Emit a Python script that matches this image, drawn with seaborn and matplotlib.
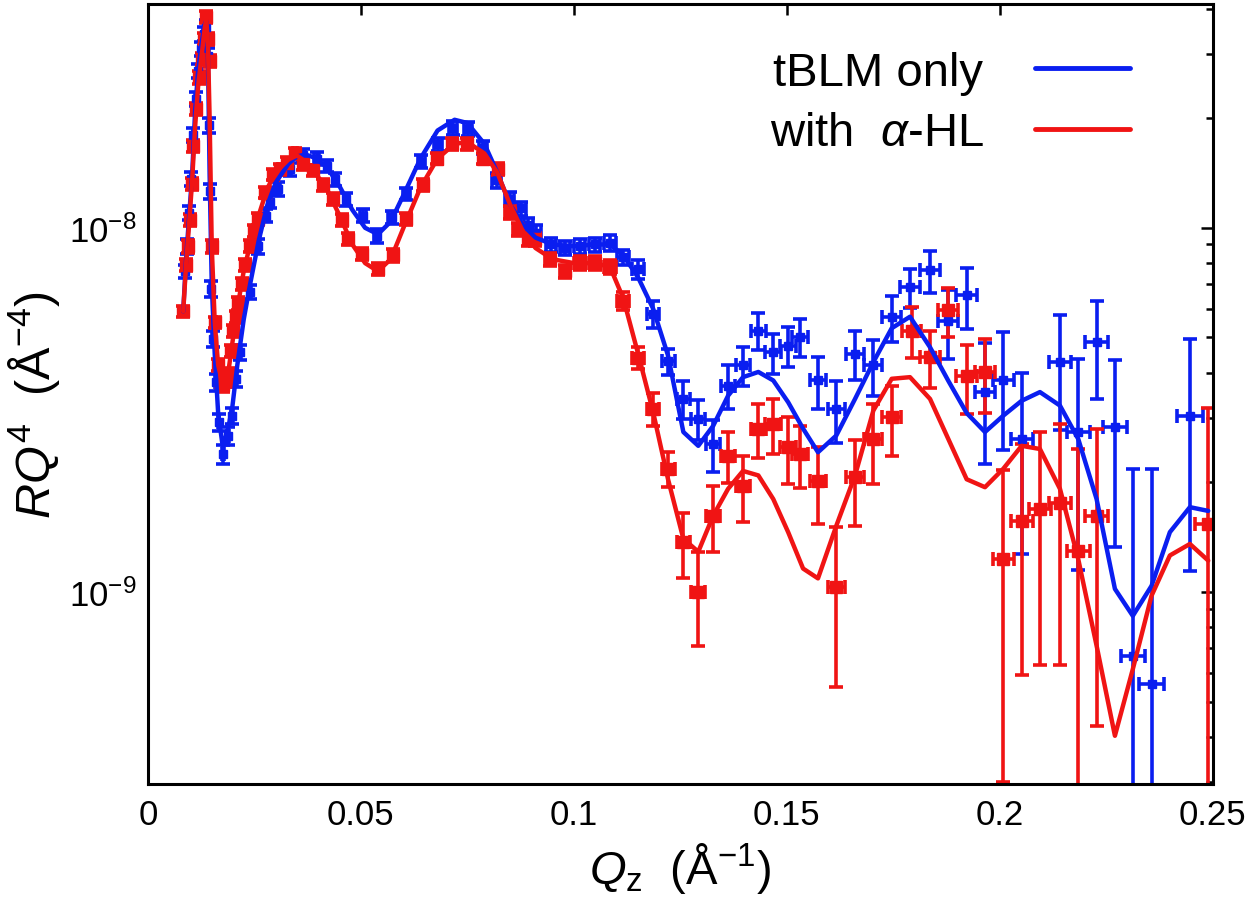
import numpy as np
import matplotlib
matplotlib.use("Agg")
import matplotlib.pyplot as plt
from matplotlib.lines import Line2D
from matplotlib.ticker import FixedLocator, FuncFormatter, NullFormatter
import seaborn as sns

# ---------------------------------------------------------------------------
# Data (R*Q^4 in units of 1e-9 A^-4)
# ---------------------------------------------------------------------------
q_blue = [0.0088, 0.0092, 0.0097, 0.0102, 0.0107, 0.0112, 0.0118, 0.0124, 0.0131, 0.0137,
          0.0141, 0.0143, 0.0145, 0.0148, 0.0152, 0.0159, 0.0166, 0.0176, 0.0188, 0.0198,
          0.0207, 0.0216, 0.0239, 0.0259, 0.0278, 0.0286, 0.0306, 0.0333, 0.0365, 0.0396,
          0.0420, 0.0439, 0.0466, 0.0505, 0.0537, 0.0572, 0.0607, 0.0642, 0.0681, 0.0717,
          0.0752, 0.0787, 0.0819, 0.0850, 0.0877, 0.0893, 0.0912, 0.0947, 0.0979, 0.1014,
          0.1049, 0.1085, 0.1116, 0.1151, 0.1186, 0.1221, 0.1257, 0.1292, 0.1327, 0.1362,
          0.1397, 0.1433, 0.1468, 0.1503, 0.1531, 0.1573, 0.1616, 0.1660, 0.1703, 0.1746,
          0.1789, 0.1836, 0.1879, 0.1922, 0.1965, 0.2008, 0.2051, 0.2141, 0.2184, 0.2227,
          0.2270, 0.2312, 0.2356, 0.2446]
r_blue = [7.6, 8.9, 11.0, 13.6, 18.0, 22.6, 27.0, 31.0, 34.0, 35.7,
          29.7, 19.1, 12.6, 6.8, 4.96, 3.77, 2.93, 2.39, 2.68, 3.05,
          3.85, 4.56, 6.67, 8.9, 10.8, 11.8, 12.8, 14.5, 15.8, 15.5,
          14.8, 13.6, 12.0, 10.8, 9.5, 10.7, 12.4, 15.2, 17.0, 18.8,
          18.7, 16.6, 13.5, 12.0, 11.3, 10.2, 9.7, 9.0, 8.8, 8.9,
          9.0, 9.1, 8.3, 7.7, 5.8, 4.3, 3.39, 2.99, 2.55, 3.69,
          4.19, 5.22, 4.55, 4.75, 5.01, 3.81, 3.18, 4.51, 4.19, 5.69,
          6.87, 7.64, 5.56, 6.52, 3.54, 3.81, 2.63, 4.28, 2.75, 4.85,
          2.83, 0.668, 0.559, 3.05]
err_blue = [0.3, 0.4, 0.5, 0.6, 0.8, 1.0, 1.2, 1.4, 1.5, 1.6,
            1.4, 0.9, 0.6, 0.35, 0.25, 0.2, 0.16, 0.14, 0.15, 0.16,
            0.2, 0.22, 0.3, 0.4, 0.45, 0.5, 0.55, 0.6, 0.65, 0.65,
            0.6, 0.55, 0.5, 0.45, 0.4, 0.45, 0.5, 0.6, 0.7, 0.8,
            0.8, 0.7, 0.6, 0.55, 0.5, 0.45, 0.45, 0.4, 0.4, 0.4,
            0.4, 0.45, 0.4, 0.45, 0.5, 0.36, 0.4, 0.38, 0.41, 0.5,
            0.52, 0.6, 0.57, 0.6, 0.6, 0.62, 0.62, 0.7, 0.73, 0.82,
            0.85, 1.0, 1.2, 1.26, 1.3, 1.35, 1.36, 1.5, 1.6, 1.46,
            1.5, 1.51, 1.62, 1.91]

q_red = [0.0083, 0.0089, 0.0094, 0.0099, 0.0103, 0.0107, 0.0114, 0.0120, 0.0126, 0.0131,
         0.0136, 0.0141, 0.0146, 0.0150, 0.0157, 0.0165, 0.0171, 0.0177, 0.0183, 0.0189,
         0.0195, 0.0200, 0.0206, 0.0212, 0.0220, 0.0228, 0.0239, 0.0249, 0.0259, 0.0275,
         0.0294, 0.0310, 0.0326, 0.0345, 0.0365, 0.0388, 0.0412, 0.0435, 0.0455, 0.0470,
         0.0502, 0.0541, 0.0576, 0.0607, 0.0646, 0.0678, 0.0713, 0.0748, 0.0787, 0.0822,
         0.0850, 0.0869, 0.0893, 0.0908, 0.0944, 0.0979, 0.1014, 0.1049, 0.1085, 0.1116,
         0.1151, 0.1186, 0.1221, 0.1257, 0.1292, 0.1327, 0.1362, 0.1397, 0.1433, 0.1468,
         0.1503, 0.1531, 0.1573, 0.1616, 0.1660, 0.1703, 0.1746, 0.1793, 0.1836, 0.1879,
         0.1922, 0.1965, 0.2008, 0.2051, 0.2094, 0.2141, 0.2184, 0.2227, 0.2489]
r_red = [5.9, 7.9, 8.9, 10.5, 13.2, 16.8, 21.2, 25.9, 29.1, 33.0,
         38.0, 33.0, 28.8, 8.9, 5.5, 4.2, 3.8, 3.7, 3.8, 3.95,
         4.6, 5.2, 5.7, 6.2, 7.0, 7.9, 8.9, 9.8, 10.6, 12.5,
         14.0, 14.5, 15.1, 16.0, 15.0, 14.4, 13.1, 12.0, 10.5, 9.3,
         8.5, 7.7, 8.4, 10.6, 13.1, 15.5, 17.0, 17.0, 15.5, 14.5,
         11.0, 9.9, 9.3, 9.3, 8.2, 7.6, 8.0, 8.0, 7.8, 6.3,
         4.4, 3.18, 2.18, 1.37, 1.0, 1.62, 2.37, 1.96, 2.81, 2.89,
         2.50, 2.39, 2.02, 1.03, 2.07, 2.63, 3.02, 5.22, 4.42, 5.93,
         3.93, 4.02, 1.23, 1.57, 1.69, 1.76, 1.30, 1.62, 1.54]
err_red = [0.2, 0.3, 0.35, 0.4, 0.5, 0.6, 0.8, 1.0, 1.1, 1.2,
           1.4, 1.2, 1.1, 0.35, 0.2, 0.16, 0.15, 0.15, 0.15, 0.16,
           0.18, 0.2, 0.22, 0.24, 0.27, 0.3, 0.33, 0.36, 0.4, 0.45,
           0.5, 0.5, 0.55, 0.55, 0.55, 0.5, 0.5, 0.45, 0.4, 0.35,
           0.32, 0.3, 0.32, 0.4, 0.5, 0.55, 0.6, 0.6, 0.55, 0.55,
           0.45, 0.4, 0.38, 0.38, 0.35, 0.33, 0.35, 0.35, 0.35, 0.35,
           0.3, 0.33, 0.24, 0.28, 0.29, 0.33, 0.38, 0.4, 0.48, 0.5,
           0.52, 0.46, 0.48, 0.48, 0.55, 0.65, 0.66, 0.83, 0.78, 0.92,
           0.85, 0.92, 0.93, 0.98, 1.06, 1.13, 1.17, 1.19, 1.66]

# model fits
q_fit = [0.0083, 0.0090, 0.0097, 0.0104, 0.0111, 0.0118, 0.0126, 0.0133, 0.0137, 0.0141,
         0.0145, 0.0150, 0.0157, 0.0165, 0.0176, 0.0188, 0.0198, 0.0210, 0.0225, 0.0240,
         0.0260, 0.0280, 0.0300, 0.0330, 0.0350, 0.0370, 0.0390, 0.0420, 0.0450, 0.0480,
         0.0510, 0.0540, 0.0570, 0.0600, 0.0640, 0.0680, 0.0720, 0.0750, 0.0790, 0.0820,
         0.0850, 0.0880, 0.0910, 0.0950, 0.1000, 0.1050, 0.1085, 0.1116, 0.1151, 0.1186,
         0.1221, 0.1257, 0.1292, 0.1327, 0.1362, 0.1397, 0.1433, 0.1468, 0.1503, 0.1538,
         0.1573, 0.1616, 0.1660, 0.1703, 0.1746, 0.1789, 0.1836, 0.1879, 0.1922, 0.1965,
         0.2008, 0.2051, 0.2094, 0.2141, 0.2184, 0.2227, 0.2270, 0.2312, 0.2356, 0.2399,
         0.2446, 0.2489]
fit_blue = [5.9, 8.3, 10.8, 14.0, 21.0, 27.0, 32.0, 36.0, 37.0, 30.0,
            14.0, 7.0, 4.5, 3.1, 2.5, 2.8, 3.2, 4.2, 5.6, 7.0,
            9.2, 11.5, 13.3, 15.0, 15.7, 15.9, 15.6, 14.7, 13.0, 11.2,
            10.0, 9.6, 10.4, 12.3, 15.5, 18.5, 19.8, 19.4, 17.0, 14.2,
            11.6, 10.2, 9.4, 9.0, 8.9, 9.0, 9.0, 8.4, 7.3, 6.0,
            4.46, 2.75, 2.52, 2.86, 3.46, 3.89, 4.02, 3.81, 3.32, 2.81,
            2.42, 2.69, 3.39, 4.28, 5.3, 5.7, 4.7, 3.8, 3.1, 2.75,
            3.05, 3.35, 3.54, 3.25, 2.63, 1.80, 1.02, 0.86, 1.04, 1.46,
            1.71, 1.67]
fit_red = [5.9, 8.0, 10.3, 13.5, 19.0, 24.5, 29.5, 35.0, 37.5, 32.0,
           20.0, 8.9, 5.5, 4.2, 3.7, 3.95, 4.8, 6.0, 7.6, 9.0,
           10.8, 12.8, 14.2, 15.4, 15.8, 15.2, 14.3, 12.8, 10.8, 9.0,
           8.0, 7.6, 8.2, 10.0, 12.9, 15.5, 17.0, 17.2, 16.0, 14.2,
           11.6, 9.8, 8.8, 8.2, 8.0, 8.0, 7.8, 6.4, 4.5, 3.12,
           2.04, 1.40, 1.29, 1.62, 1.92, 2.15, 2.09, 1.80, 1.46, 1.16,
           1.09, 1.52, 2.09, 3.15, 3.85, 3.89, 3.39, 2.63, 2.04, 1.94,
           2.18, 2.52, 2.47, 1.92, 1.23, 0.712, 0.403, 0.614, 0.977, 1.26,
           1.355, 1.22]

dq_over_q = 0.0125   # instrument resolution, sets the horizontal error bars
x_ticks = [0, 0.05, 0.1, 0.15, 0.2, 0.25]
x_tick_labels = ["0", "0.05", "0.1", "0.15", "0.2", "0.25"]
y_ticks = [1e-9, 1e-8]
y_minor_ticks = [3e-10, 4e-10, 5e-10, 6e-10, 7e-10, 8e-10, 9e-10,
                 2e-9, 3e-9, 4e-9, 5e-9, 6e-9, 7e-9, 8e-9, 9e-9,
                 2e-8, 3e-8, 4e-8]
labels = ["tBLM only", "with  $\\alpha$-HL"]

unit = 1e-9
blue = "#0a1ef0"
red = "#f01414"

# ---------------------------------------------------------------------------
# Style
# ---------------------------------------------------------------------------
sns.set_theme(style="white")
plt.rcParams["font.family"] = ["Liberation Sans", "DejaVu Sans"]
plt.rcParams["mathtext.fontset"] = "custom"
plt.rcParams["mathtext.rm"] = "Liberation Sans"
plt.rcParams["mathtext.it"] = "Liberation Sans:italic"
plt.rcParams["mathtext.bf"] = "Liberation Sans:bold"
plt.rcParams["text.color"] = "black"
plt.rcParams["axes.labelcolor"] = "black"
plt.rcParams["xtick.color"] = "black"
plt.rcParams["ytick.color"] = "black"

fig = plt.figure(figsize=(12.53, 9.2), dpi=100)
ax = fig.add_axes([0.118, 0.1467, 0.85, 0.848])
ax.set_yscale("log")

for q, r, e, col, ms in [(q_blue, r_blue, err_blue, blue, 6.0),
                         (q_red, r_red, err_red, red, 8.0)]:
    q = np.asarray(q)
    ax.errorbar(q, np.asarray(r) * unit, yerr=np.asarray(e) * unit,
                xerr=q * dq_over_q, fmt="s", color=col, ms=ms,
                elinewidth=2.6, capsize=5, capthick=2.6, zorder=2)
    fit = fit_blue if col == blue else fit_red
    sns.lineplot(x=q_fit, y=np.asarray(fit) * unit, color=col, lw=3.2,
                 estimator=None, sort=False, ax=ax, zorder=3)

ax.set_xlim(0, 0.25)
ax.set_ylim(2.97e-10, 4.12e-8)

ax.xaxis.set_major_locator(FixedLocator(x_ticks))
ax.set_xticklabels(x_tick_labels)
ax.yaxis.set_major_locator(FixedLocator(y_ticks))
ax.yaxis.set_minor_locator(FixedLocator(y_minor_ticks))
ax.yaxis.set_minor_formatter(NullFormatter())
ax.yaxis.set_major_formatter(FuncFormatter(
    lambda v, pos: "$10^{%d}$" % int(round(np.log10(v)))))

ax.tick_params(axis="both", which="both", direction="in", top=True, right=True,
               width=1.8, color="black", labelcolor="black")
ax.tick_params(axis="x", which="major", length=8, labelsize=25, pad=10)
ax.tick_params(axis="y", which="major", length=9, labelsize=25, pad=8)
ax.tick_params(axis="y", which="minor", length=5)
for s in ax.spines.values():
    s.set_linewidth(2.2)
    s.set_color("black")

ax.set_ylabel("$RQ^4$  (Å$^{-4}$)", fontsize=35)
ax.yaxis.set_label_coords(-0.081, 0.487)
ax.set_xlabel("$Q_\\mathrm{z}$  (Å$^{-1}$)", fontsize=34)
ax.xaxis.set_label_coords(0.5, -0.072)

handles = [Line2D([], [], color=blue, lw=3.5), Line2D([], [], color=red, lw=3.5)]
ax.legend(handles, labels, loc="upper right", bbox_to_anchor=(0.922, 0.94),
          frameon=False, markerfirst=False, fontsize=34, handlelength=2.0,
          handletextpad=1.1, labelspacing=0.35, borderpad=0, borderaxespad=0)

fig.savefig("out.png", dpi=100)
